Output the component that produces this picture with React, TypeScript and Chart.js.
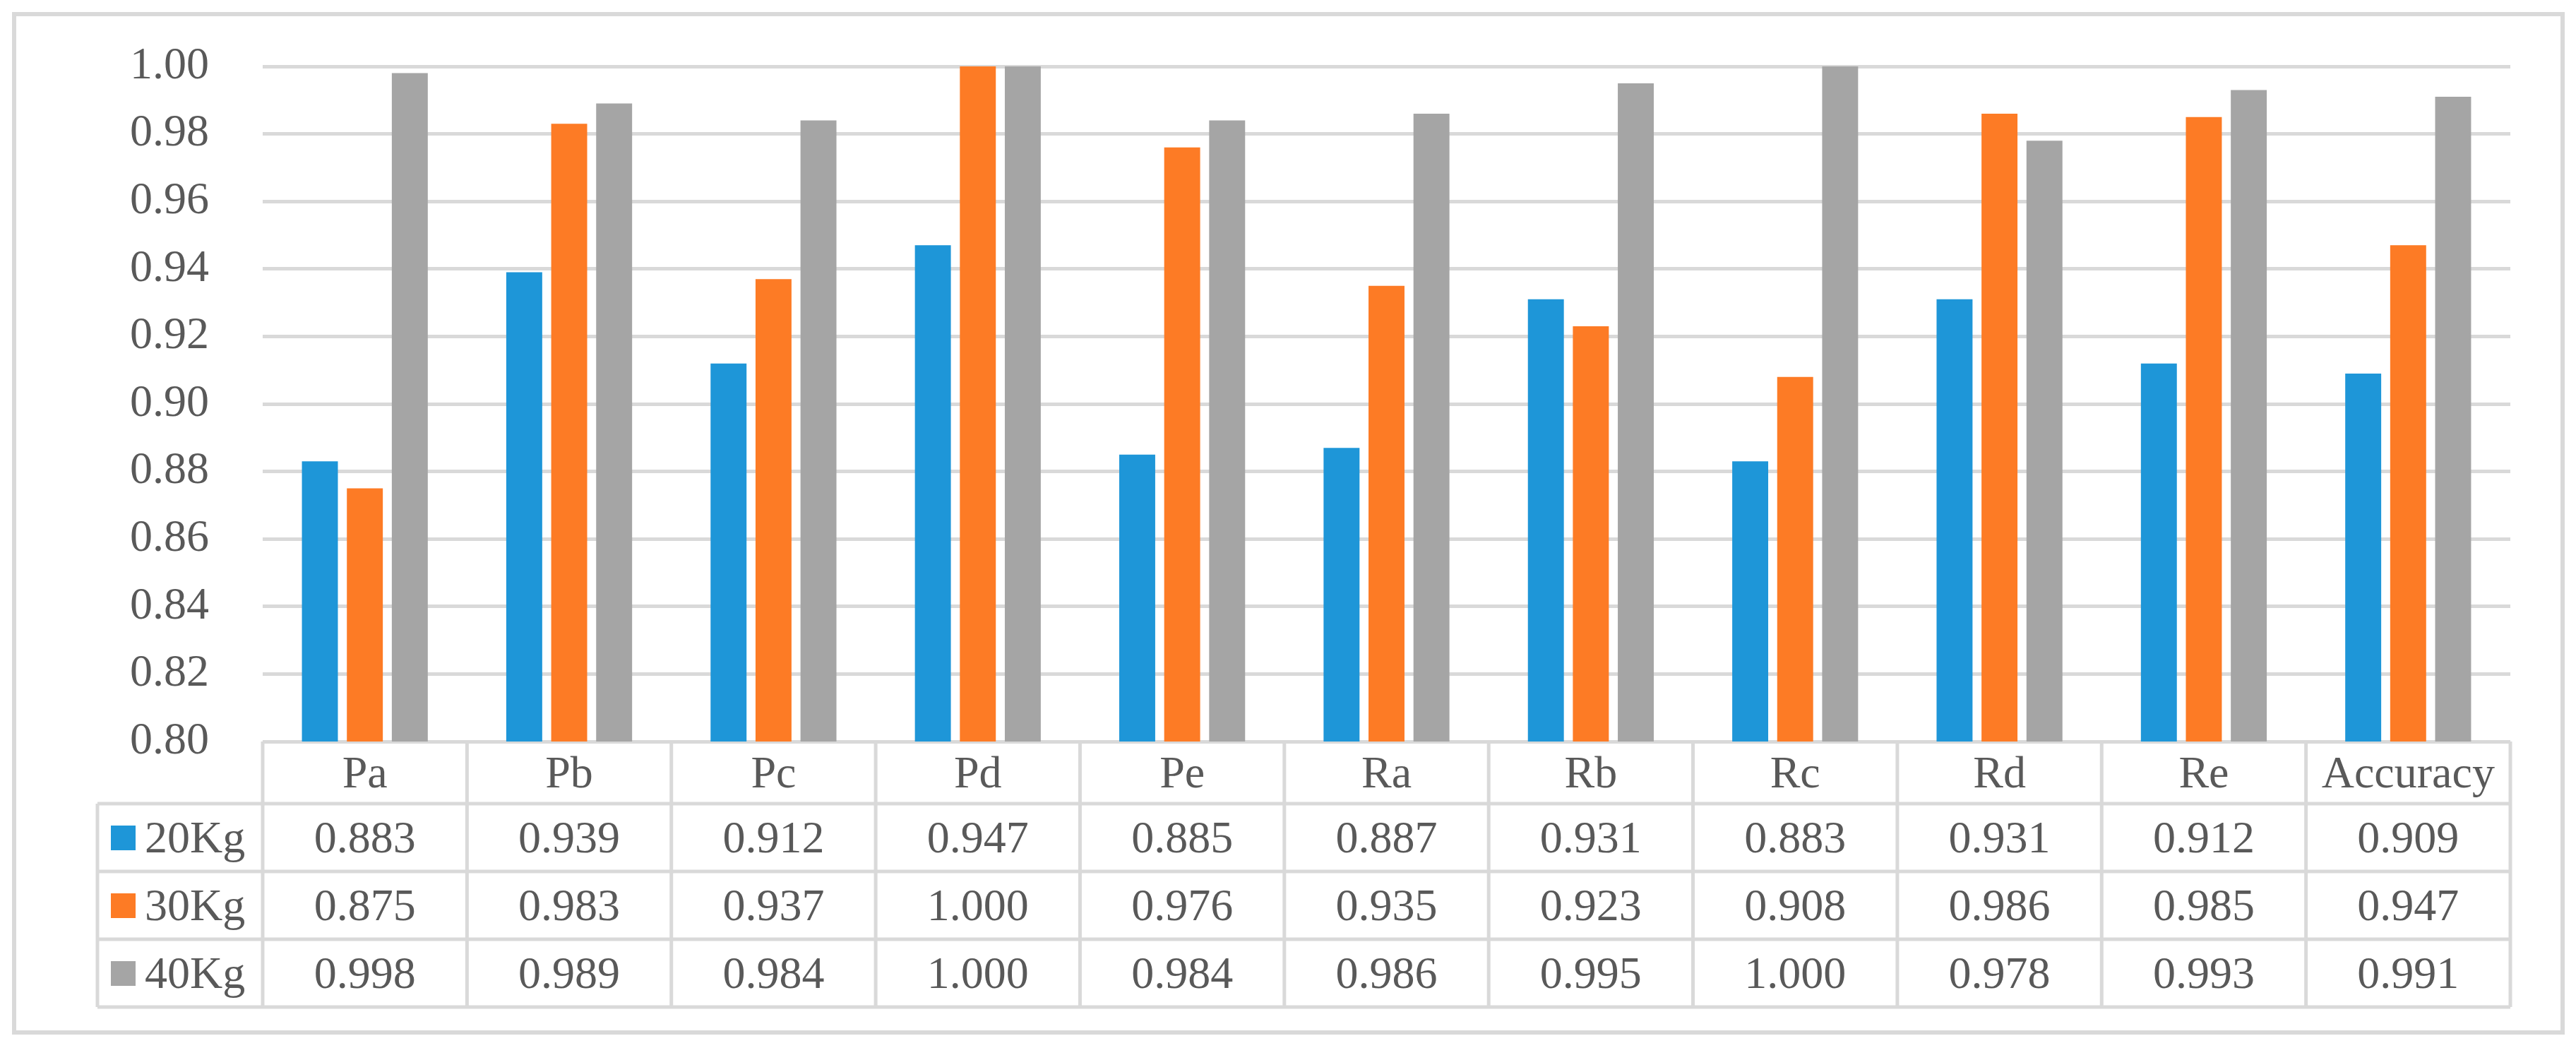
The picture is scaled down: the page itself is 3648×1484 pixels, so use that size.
import { useEffect, useRef } from 'react';
import { Chart, registerables } from 'chart.js';

Chart.register(...registerables);

const categories = ['Pa', 'Pb', 'Pc', 'Pd', 'Pe', 'Ra', 'Rb', 'Rc', 'Rd', 'Re', 'Accuracy'];
const seriesNames = ['20Kg', '30Kg', '40Kg'];
const kg20 = [0.883, 0.939, 0.912, 0.947, 0.885, 0.887, 0.931, 0.883, 0.931, 0.912, 0.909];
const kg30 = [0.875, 0.983, 0.937, 1.0, 0.976, 0.935, 0.923, 0.908, 0.986, 0.985, 0.947];
const kg40 = [0.998, 0.989, 0.984, 1.0, 0.984, 0.986, 0.995, 1.0, 0.978, 0.993, 0.991];
const yMin = 0.8;
const yMax = 1.0;
const yStep = 0.02;

const colors = ['#1E96D8', '#FD7B25', '#A5A5A5'];
const textColor = '#595959';
const lineColor = '#D9D9D9';
const fontFamily = '"Liberation Serif", "Times New Roman", serif';
const fontSize = 64;

// data table under the plot, drawn against the x scale
const tablePlugin = {
  id: 'dataTable',
  beforeDraw(chart: Chart) {
    const { ctx, width, height } = chart;
    ctx.save();
    ctx.fillStyle = '#ffffff';
    ctx.fillRect(0, 0, width, height);
    ctx.strokeStyle = lineColor;
    ctx.lineWidth = 6;
    ctx.strokeRect(20, 20, width - 39, height - 42);
    ctx.restore();
  },
  afterDraw(chart: Chart) {
    const { ctx, chartArea } = chart;
    const x = chart.scales.x;
    const left = chartArea.left;
    const right = chartArea.right;
    const top = chartArea.bottom;
    const headerBottom = top + 88;
    const rowH = 96;
    const tableBottom = headerBottom + rowH * 3;
    const legendLeft = 138;
    const catW = (right - left) / categories.length;
    const allData = [kg20, kg30, kg40];

    ctx.save();
    ctx.strokeStyle = lineColor;
    ctx.lineWidth = 5;
    ctx.beginPath();
    // horizontal lines
    for (let r = 0; r <= 3; r++) {
      const y = headerBottom + r * rowH;
      ctx.moveTo(legendLeft, y);
      ctx.lineTo(right, y);
    }
    // vertical lines
    for (let i = 0; i <= categories.length; i++) {
      const cx = i < categories.length ? x.getPixelForValue(i) - catW / 2 : x.getPixelForValue(i - 1) + catW / 2;
      ctx.moveTo(cx, top);
      ctx.lineTo(cx, tableBottom);
    }
    ctx.moveTo(legendLeft, headerBottom);
    ctx.lineTo(legendLeft, tableBottom);
    ctx.stroke();

    ctx.fillStyle = textColor;
    ctx.font = `${fontSize}px ${fontFamily}`;
    ctx.textBaseline = 'alphabetic';
    ctx.textAlign = 'center';
    const capOffset = fontSize * 0.335;

    categories.forEach((c, i) => {
      ctx.fillText(c, x.getPixelForValue(i), (top + headerBottom) / 2 + capOffset);
    });

    allData.forEach((arr, r) => {
      const cy = headerBottom + r * rowH + rowH / 2;
      arr.forEach((v, i) => {
        ctx.fillText(v.toFixed(3), x.getPixelForValue(i), cy + capOffset);
      });
      // legend key
      ctx.fillStyle = colors[r];
      ctx.fillRect(157, cy - 17, 35, 35);
      ctx.fillStyle = textColor;
      ctx.textAlign = 'left';
      ctx.fillText(seriesNames[r], 205, cy + capOffset);
      ctx.textAlign = 'center';
    });
    ctx.restore();
  },
};

export default function App() {
  const chartRef = useRef<HTMLCanvasElement>(null);
  const chartInstance = useRef<Chart | null>(null);

  useEffect(() => {
    document.body.style.margin = '0';
    if (chartRef.current) {
      const ctx = chartRef.current.getContext('2d');
      if (ctx) {
        if (chartInstance.current) {
          chartInstance.current.destroy();
        }

        chartInstance.current = new Chart(ctx, {
          type: 'bar',
          data: {
            labels: categories,
            datasets: [kg20, kg30, kg40].map((d, i) => ({
              label: seriesNames[i],
              data: d,
              backgroundColor: colors[i],
              borderWidth: 0,
              categoryPercentage: 0.66,
              barPercentage: 0.8,
            })),
          },
          options: {
            responsive: false,
            animation: false,
            devicePixelRatio: 1,
            layout: {
              padding: { left: 0, top: 94, right: 93, bottom: 434 },
            },
            plugins: {
              legend: { display: false },
              tooltip: { enabled: false },
            },
            scales: {
              x: {
                display: false,
              },
              y: {
                min: yMin,
                max: yMax,
                afterFit(scale: any) {
                  scale.width = 372;
                },
                border: { display: false },
                grid: {
                  color: lineColor,
                  lineWidth: 5,
                  drawTicks: true,
                  tickLength: 76,
                  tickColor: 'rgba(0,0,0,0)',
                },
                ticks: {
                  stepSize: yStep,
                  padding: 0,
                  color: textColor,
                  font: { family: fontFamily, size: fontSize },
                  callback: (v: any) => Number(v).toFixed(2),
                },
              },
            },
          },
          plugins: [tablePlugin],
        });
      }
    }

    return () => {
      if (chartInstance.current) {
        chartInstance.current.destroy();
        chartInstance.current = null;
      }
    };
  }, []);

  return (
    <div style={{ width: 3648, height: 1484 }}>
      <canvas ref={chartRef} width={3648} height={1484}></canvas>
    </div>
  );
}
